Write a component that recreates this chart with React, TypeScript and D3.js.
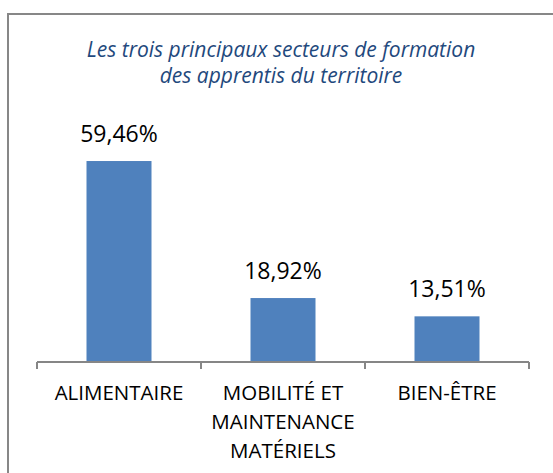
import React, { useEffect, useRef } from 'react';
import * as d3 from 'd3';

const categories: string[][] = [
  ['ALIMENTAIRE'],
  ['MOBILITÉ ET', 'MAINTENANCE', 'MATÉRIELS'],
  ['BIEN-ÊTRE'],
];
const values: number[] = [59.46, 18.92, 13.51];
const titleLines: string[] = [
  'Les trois principaux secteurs de formation',
  'des apprentis du territoire',
];

const W = 553;
const H = 473;
const FONT = '"Open Sans", "Noto Sans", sans-serif';

const App: React.FC = () => {
  const ref = useRef<SVGSVGElement>(null);

  useEffect(() => {
    const svg = d3.select(ref.current);
    svg.selectAll('*').remove();

    // chart frame (runs off the right and bottom edges)
    svg.append('rect')
      .attr('x', 8).attr('y', 14)
      .attr('width', 700).attr('height', 700)
      .attr('fill', '#fff')
      .attr('stroke', '#878787')
      .attr('stroke-width', 2);

    // title
    svg.append('text')
      .attr('text-anchor', 'middle')
      .attr('font-family', FONT)
      .attr('font-style', 'italic')
      .attr('font-size', 21)
      .attr('fill', '#1F497D')
      .selectAll('tspan')
      .data(titleLines)
      .enter()
      .append('tspan')
      .attr('x', 281)
      .attr('y', (_d, i) => 57 + i * 26)
      .text(d => d);

    const keys = categories.map(c => c.join(' '));
    const x = d3.scaleBand<string>().domain(keys).range([37, 529]).paddingInner(0).paddingOuter(0);
    const y = d3.scaleLinear().domain([0, 70]).range([362, 125.4]);
    const barW = 65;

    // bars
    svg.selectAll('.bar')
      .data(values)
      .enter()
      .append('rect')
      .attr('class', 'bar')
      .attr('x', (_d, i) => (x(keys[i]) as number) + (x.bandwidth() - barW) / 2)
      .attr('y', d => y(d))
      .attr('width', barW)
      .attr('height', d => y(0) - y(d))
      .attr('fill', '#4F81BD');

    // value labels
    svg.selectAll('.val')
      .data(values)
      .enter()
      .append('text')
      .attr('class', 'val')
      .attr('x', (_d, i) => (x(keys[i]) as number) + x.bandwidth() / 2)
      .attr('y', d => y(d) - 19)
      .attr('text-anchor', 'middle')
      .attr('font-family', FONT)
      .attr('font-size', 23)
      .attr('fill', '#000')
      .text(d => d.toFixed(2).replace('.', ',') + '%');

    // category axis
    const axis = svg.append('g').attr('stroke', '#868686').attr('stroke-width', 2);
    axis.append('line')
      .attr('x1', 37).attr('x2', 529)
      .attr('y1', 362).attr('y2', 362);
    const edges = keys.map(k => x(k) as number).concat([529]);
    axis.selectAll('.tick')
      .data(edges)
      .enter()
      .append('line')
      .attr('x1', d => d).attr('x2', d => d)
      .attr('y1', 362).attr('y2', 369);

    // category labels
    categories.forEach((lines, i) => {
      svg.append('text')
        .attr('text-anchor', 'middle')
        .attr('font-family', FONT)
        .attr('font-size', 20.5)
        .attr('fill', '#000')
        .selectAll('tspan')
        .data(lines)
        .enter()
        .append('tspan')
        .attr('x', (x(keys[i]) as number) + x.bandwidth() / 2)
        .attr('y', (_d, j) => 400 + j * 29)
        .text(d => d);
    });
  }, []);

  return (
    <svg
      ref={ref}
      width={W}
      height={H}
      style={{ position: 'absolute', left: 0, top: 0, background: '#fff' }}
    />
  );
};

export default App;
